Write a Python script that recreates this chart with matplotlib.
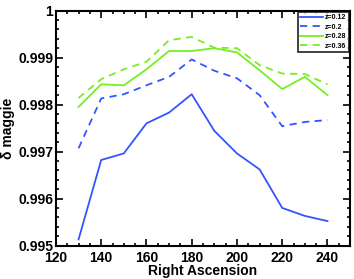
import matplotlib
matplotlib.use("Agg")
import matplotlib.pyplot as plt
from matplotlib.ticker import MultipleLocator

ra = [130, 140, 150, 160, 170, 180, 190, 200, 210, 220, 230, 240]
z012 = [0.99513, 0.99682, 0.99696, 0.99760, 0.99783, 0.99822, 0.99744, 0.99696, 0.99662, 0.99580, 0.99563, 0.99552]
z020 = [0.99707, 0.99813, 0.99822, 0.99841, 0.99859, 0.99896, 0.99872, 0.99856, 0.99820, 0.99754, 0.99763, 0.99767]
z028 = [0.99795, 0.99843, 0.99841, 0.99875, 0.99914, 0.99914, 0.99920, 0.99911, 0.99873, 0.99833, 0.99859, 0.99820]
z036 = [0.99814, 0.99854, 0.99875, 0.99891, 0.99937, 0.99944, 0.99921, 0.99920, 0.99884, 0.99866, 0.99865, 0.99843]
labels = ["z=0.12", "z=0.2", "z=0.28", "z=0.36"]
yticks = [0.995, 0.996, 0.997, 0.998, 0.999, 1.0]
yticklabels = ["0.995", "0.996", "0.997", "0.998", "0.999", "1"]
xticks = [120, 140, 160, 180, 200, 220, 240]

plt.rcParams['font.family'] = ['Liberation Sans', 'DejaVu Sans']
plt.rcParams['font.weight'] = 'bold'

fig = plt.figure(figsize=(3.54, 2.79), dpi=100)
ax = fig.add_axes([0.158, 0.12, 0.831, 0.842])

blue = '#3355ff'
green = '#77ee22'
ax.plot(ra, z012, color=blue, lw=1.3, ls='-', label=labels[0])
ax.plot(ra, z020, color=blue, lw=1.3, ls=(0, (4, 3)), label=labels[1])
ax.plot(ra, z028, color=green, lw=1.3, ls='-', label=labels[2])
ax.plot(ra, z036, color=green, lw=1.3, ls=(0, (4, 3)), label=labels[3])

ax.set_xlim(120, 250)
ax.set_ylim(0.995, 1.0)
ax.set_xticks(xticks)
ax.set_yticks(yticks)
ax.set_yticklabels(yticklabels)
ax.xaxis.set_minor_locator(MultipleLocator(5))
ax.yaxis.set_minor_locator(MultipleLocator(0.0002))
ax.tick_params(which='both', direction='in', top=True, right=True, width=1.2)
ax.tick_params(which='major', length=5, labelsize=10)
ax.tick_params(axis='x', which='major', pad=4)
ax.tick_params(axis='y', which='major', pad=2)
ax.tick_params(which='minor', length=2.5)
for s in ax.spines.values():
    s.set_linewidth(1.5)
for lab in ax.get_xticklabels() + ax.get_yticklabels():
    lab.set_fontweight('bold')

ax.set_xlabel('Right Ascension', fontsize=10, fontweight='bold', labelpad=-1)
ax.set_ylabel('δ maggie', fontsize=10, fontweight='bold', labelpad=2)

leg = ax.legend(loc='upper right', fontsize=5, frameon=True, fancybox=False,
                handlelength=3.2, borderpad=0.4, labelspacing=0.35,
                handletextpad=0.3, borderaxespad=0.15, markerfirst=True)
leg.get_frame().set_edgecolor('black')
leg.get_frame().set_linewidth(1.3)
for t in leg.get_texts():
    t.set_ha('right')
    t.set_fontweight('bold')

fig.savefig('out.png', dpi=100)
